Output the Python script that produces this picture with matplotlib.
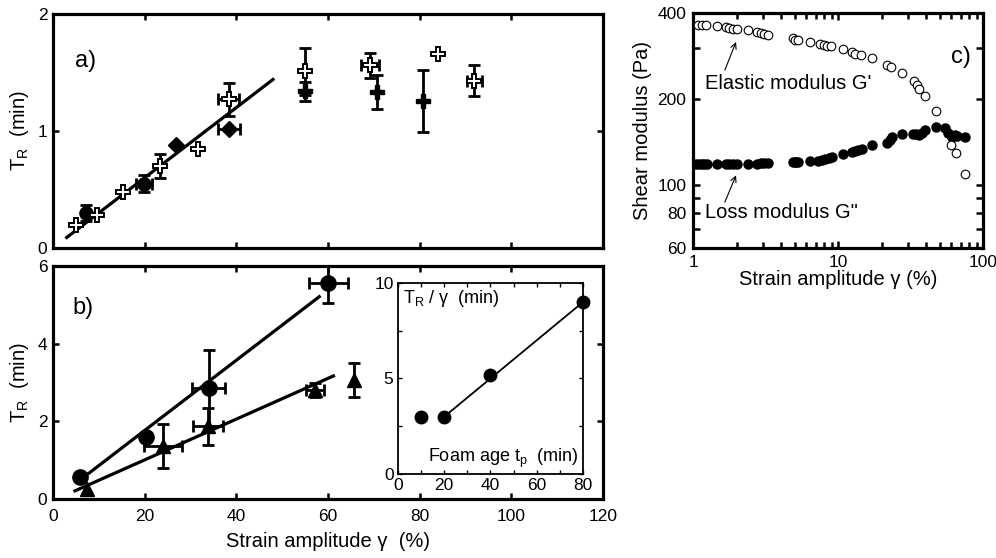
import matplotlib
matplotlib.use('Agg')
import matplotlib.pyplot as plt
import numpy as np
from matplotlib.ticker import FixedLocator, NullLocator, NullFormatter, LogLocator

plt.rcParams['font.family'] = ['Liberation Sans', 'DejaVu Sans']
plt.rcParams['mathtext.default'] = 'regular'

# ---------------- Panel a data ----------------
a_open_x = [5.0, 9.5, 15.3, 23.3, 31.7, 38.3, 55.0, 69.2, 83.9, 91.9]
a_open_y = [0.20, 0.28, 0.48, 0.70, 0.85, 1.27, 1.51, 1.56, 1.66, 1.43]
a_open_xerr = [0, 0, 0, 0, 0, 2.3, 0, 1.9, 0, 1.6]
a_open_yerr = [0, 0, 0, 0.10, 0, 0.14, 0.20, 0.11, 0, 0.13]

a_circ_x = [7.2, 19.9]
a_circ_y = [0.30, 0.55]
a_circ_xerr = [0, 1.7]
a_circ_yerr = [0.07, 0.075]

a_diam_x = [26.8, 38.3]
a_diam_y = [0.88, 1.02]
a_diam_xerr = [0, 2.4]
a_diam_yerr = [0, 0]

a_fill_x = [55.0, 70.8, 80.7]
a_fill_y = [1.34, 1.33, 1.26]
a_fill_xerr = [0, 0, 0]
a_fill_yerr = [0.08, 0.145, 0.265]

a_fit_x = [3.0, 48.0]
a_fit_y = [0.09, 1.44]

# ---------------- Panel b data ----------------
b_circ_x = [5.9, 20.3, 34.0, 60.1]
b_circ_y = [0.57, 1.60, 2.85, 5.55]
b_circ_xerr = [0, 0, 3.6, 4.2]
b_circ_yerr = [0, 0, 0.98, 0.50]

b_tri_x = [7.5, 24.0, 33.8, 57.2, 65.7]
b_tri_y = [0.27, 1.37, 1.87, 2.81, 3.06]
b_tri_xerr = [0, 4.1, 3.3, 2.0, 0]
b_tri_yerr = [0, 0.57, 0.48, 0.18, 0.44]

b_fit1_x = [5.9, 58.1]
b_fit1_y = [0.49, 5.21]
b_fit2_x = [4.8, 61.2]
b_fit2_y = [0.21, 3.17]

# ---------------- Inset data ----------------
in_x = [10, 20, 40, 80]
in_y = [3.0, 3.0, 5.2, 9.0]
in_fit_x = [20, 80]
in_fit_y = [3.0, 9.0]

# ---------------- Panel c data ----------------
gp_x = [1.07, 1.14, 1.22, 1.45, 1.68, 1.77, 1.87, 1.99, 2.37, 2.76, 2.91, 3.07, 3.29,
        4.9, 5.0, 5.3, 6.4, 7.5, 8.0, 8.4, 8.85, 10.8, 12.4, 13.0, 14.3, 17.0, 21.5,
        22.9, 27.3, 33.2, 35.0, 36.2, 39.6, 47.2, 59.5, 64.8, 74.8]
gp_y = [362, 362, 362, 359, 357, 353, 350, 350, 348, 343, 340, 337, 335,
        327, 321, 320, 317, 311, 308, 306, 306, 298, 292, 287, 284, 277, 262,
        258, 247, 231, 223, 216, 205, 181, 138, 129, 109]
gpp_x = [1.05, 1.10, 1.14, 1.19, 1.24, 1.45, 1.68, 1.77, 1.87, 1.99, 2.37, 2.76, 2.91,
         3.07, 3.29, 4.84, 5.0, 5.11, 5.3, 6.4, 7.28, 7.68, 8.09, 8.66, 9.0, 10.8, 12.4,
         13.0, 13.7, 14.5, 17.0, 21.8, 22.7, 23.3, 27.3, 32.6, 34.3, 36.2, 37.6, 39.6,
         47.2, 54.4, 57.4, 60.5, 63.8, 66.2, 74.8]
gpp_y = [118, 118, 118, 118, 118, 118, 118, 118, 118, 118, 118, 118, 119,
         119, 119, 120, 120, 120, 120, 121, 121, 122, 123, 124, 125, 128, 130,
         131, 132, 134, 138, 140, 144, 147, 151, 151, 151, 149, 152, 155,
         159, 158, 152, 147, 149, 148, 147]

c_yticks = [60, 70, 80, 90, 100, 200, 300, 400]
c_yticklabels = ['60', '', '80', '', '100', '200', '', '400']

TICK_FS = 12.5
LABEL_FS = 14.5

fig = plt.figure(figsize=(9.96, 5.58), dpi=100)
axa = fig.add_axes([0.0532, 0.5556, 0.5522, 0.4194])
axb = fig.add_axes([0.0532, 0.1057, 0.5522, 0.4176])
axi = fig.add_axes([0.3993, 0.150, 0.1863, 0.3434])
axc = fig.add_axes([0.6961, 0.555, 0.2912, 0.4222])


def style(ax, lw=2.3, tl=4.5, tw=1.8):
    for s in ax.spines.values():
        s.set_linewidth(lw)
    ax.tick_params(which='both', direction='in', top=True, right=True,
                   length=tl, width=tw, labelsize=TICK_FS, pad=4)


def eb(ax, x, y, xerr, yerr, lw=2.0, cs=4.5):
    x, y, xerr, yerr = map(np.asarray, (x, y, xerr, yerr))
    m = yerr > 0
    if m.any():
        ax.errorbar(x[m], y[m], yerr=yerr[m], fmt='none', ecolor='k',
                    elinewidth=lw, capsize=cs, capthick=lw, zorder=2)
    m = xerr > 0
    if m.any():
        ax.errorbar(x[m], y[m], xerr=xerr[m], fmt='none', ecolor='k',
                    elinewidth=lw, capsize=cs, capthick=lw, zorder=2)


# ---------------- Panel a ----------------
ax = axa
style(ax)
ax.set_xlim(0, 120)
ax.set_ylim(0, 2)
ax.set_xticks([0, 20, 40, 60, 80, 100, 120])
ax.set_yticks([0, 1, 2])
ax.tick_params(labelbottom=False)
ax.plot(a_fit_x, a_fit_y, color='k', lw=2.3, zorder=1)
eb(ax, a_open_x, a_open_y, a_open_xerr, a_open_yerr)
eb(ax, a_circ_x, a_circ_y, a_circ_xerr, a_circ_yerr)
eb(ax, a_diam_x, a_diam_y, a_diam_xerr, a_diam_yerr)
eb(ax, a_fill_x, a_fill_y, a_fill_xerr, a_fill_yerr)
ax.plot(a_circ_x, a_circ_y, 'o', color='k', ms=9.5, zorder=3)
ax.plot(a_diam_x, a_diam_y, 'D', color='k', ms=8, zorder=3)
ax.plot(a_fill_x, a_fill_y, 'P', color='k', ms=10.5, zorder=3)
ax.plot(a_open_x, a_open_y, 'P', mfc='white', mec='k', mew=1.4, ms=10, zorder=4)
ax.set_ylabel('T$_R$  (min)', fontsize=LABEL_FS, labelpad=5)
ax.text(0.04, 0.80, 'a)', transform=ax.transAxes, fontsize=17, va='center')

# ---------------- Panel b ----------------
ax = axb
style(ax)
ax.set_xlim(0, 120)
ax.set_ylim(0, 6)
ax.set_xticks([0, 20, 40, 60, 80, 100, 120])
ax.set_yticks([0, 2, 4, 6])
ax.tick_params(axis='x', pad=7)
ax.plot(b_fit1_x, b_fit1_y, color='k', lw=2.3, zorder=1)
ax.plot(b_fit2_x, b_fit2_y, color='k', lw=2.3, zorder=1)
eb(ax, b_circ_x, b_circ_y, b_circ_xerr, b_circ_yerr)
eb(ax, b_tri_x, b_tri_y, b_tri_xerr, b_tri_yerr)
ax.plot(b_circ_x, b_circ_y, 'o', color='k', ms=11, zorder=3, clip_on=False)
ax.plot(b_tri_x, b_tri_y, '^', color='k', ms=10, zorder=3)
ax.set_ylabel('T$_R$  (min)', fontsize=LABEL_FS, labelpad=5)
ax.set_xlabel('Strain amplitude γ  (%)', fontsize=LABEL_FS, labelpad=6)
ax.text(0.035, 0.82, 'b)', transform=ax.transAxes, fontsize=17, va='center')

# ---------------- Inset ----------------
ax = axi
for s in ax.spines.values():
    s.set_linewidth(1.3)
ax.set_xlim(0, 80)
ax.set_ylim(0, 10)
ax.set_xticks([0, 20, 40, 60, 80])
ax.set_yticks([0, 5, 10])
ax.xaxis.set_minor_locator(FixedLocator([10, 30, 50, 70]))
ax.yaxis.set_minor_locator(FixedLocator([2.5, 7.5]))
ax.tick_params(which='both', direction='in', top=True, right=True,
               length=3, width=1.0, labelsize=TICK_FS, pad=3)
ax.plot(in_fit_x, in_fit_y, color='k', lw=1.3, zorder=1)
ax.plot(in_x, in_y, 'o', color='k', ms=9, zorder=3, clip_on=False)
ax.text(0.03, 0.92, 'T$_R$ / γ  (min)', transform=ax.transAxes, fontsize=13, va='center')
ax.text(0.975, 0.085, 'Foam age t$_p$  (min)', transform=ax.transAxes, fontsize=13,
        va='center', ha='right')

# ---------------- Panel c ----------------
ax = axc
ax.set_xscale('log')
ax.set_yscale('log')
for s in ax.spines.values():
    s.set_linewidth(2.3)
ax.set_xlim(1, 100)
ax.set_ylim(60, 400)
ax.xaxis.set_major_locator(FixedLocator([1, 10, 100]))
ax.xaxis.set_minor_locator(LogLocator(base=10, subs=np.arange(2, 10)))
ax.xaxis.set_minor_formatter(NullFormatter())
ax.set_xticklabels(['1', '10', '100'])
ax.yaxis.set_major_locator(FixedLocator(c_yticks))
ax.yaxis.set_minor_locator(NullLocator())
ax.set_yticklabels(c_yticklabels)
ax.tick_params(which='both', direction='in', top=True, right=True,
               width=1.8, labelsize=TICK_FS, pad=5)
ax.tick_params(which='major', length=5)
ax.tick_params(which='minor', length=4)
ax.plot(gpp_x, gpp_y, 'o', color='k', ms=6.5, zorder=3)
ax.plot(gp_x, gp_y, 'o', mfc='white', mec='k', mew=0.8, ms=6.2, zorder=4)
ax.text(1.2, 227, "Elastic modulus G'", fontsize=LABEL_FS, va='center', ha='left')
ax.text(1.2, 80, 'Loss modulus G"', fontsize=LABEL_FS, va='center', ha='left')
ax.annotate('', xy=(1.97, 316), xytext=(1.65, 252),
            arrowprops=dict(arrowstyle='->', lw=0.8, color='k', shrinkA=0, shrinkB=0))
ax.annotate('', xy=(1.97, 108), xytext=(1.65, 87),
            arrowprops=dict(arrowstyle='->', lw=0.8, color='k', shrinkA=0, shrinkB=0))
ax.text(0.89, 0.81, 'c)', transform=ax.transAxes, fontsize=17, va='center')
ax.set_ylabel('Shear modulus (Pa)', fontsize=LABEL_FS, labelpad=4)
ax.set_xlabel('Strain amplitude γ (%)', fontsize=LABEL_FS, labelpad=0)

fig.savefig('out.png', dpi=100)
